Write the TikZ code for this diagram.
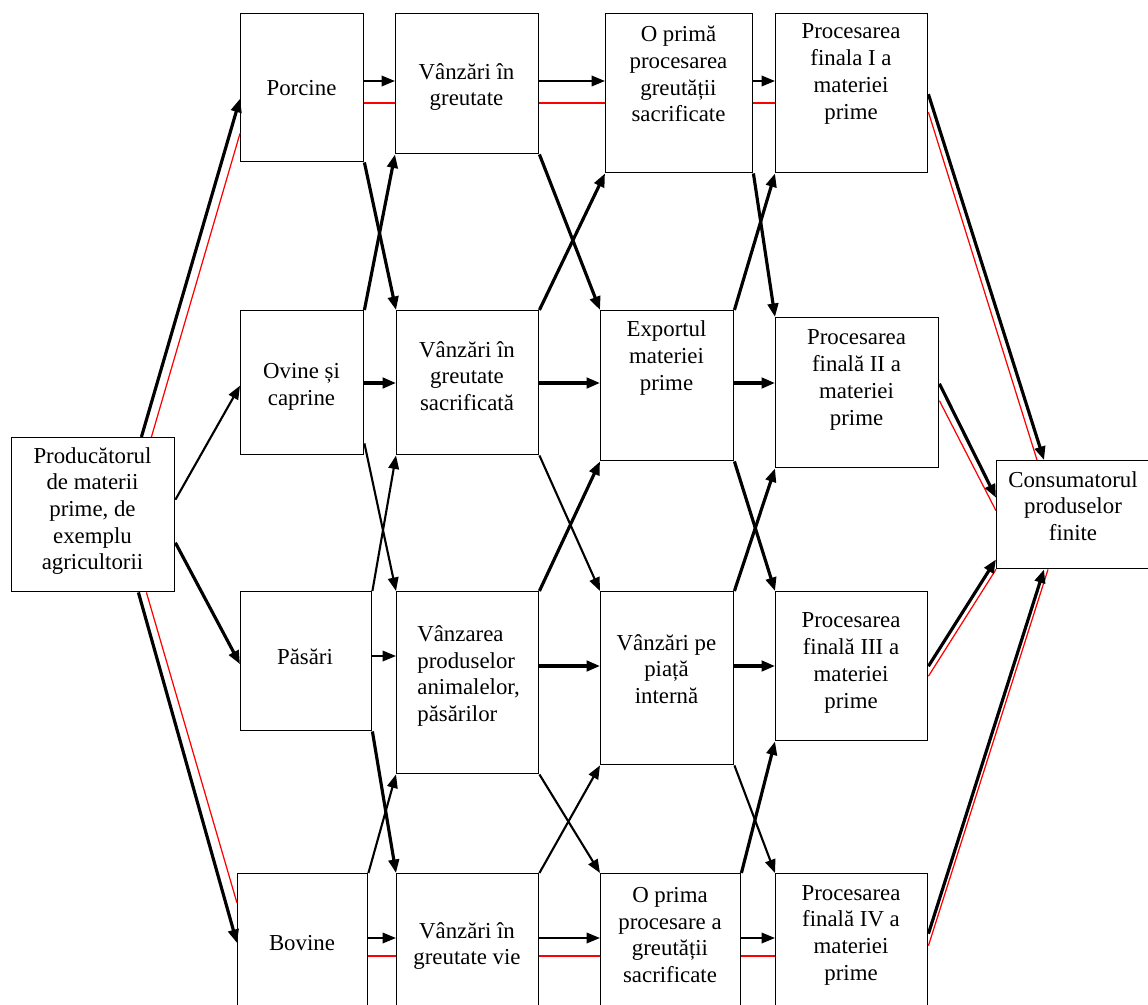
\documentclass[tikz,border=0pt]{standalone}
\usepackage{fontspec}
\setmainfont{Liberation Serif}
\usetikzlibrary{arrows.meta,calc}

\begin{document}
\begin{tikzpicture}[x=0.02cm,y=-0.02cm,
	box/.style 2 args={draw, line width=0.8pt, minimum width=#1*0.02cm, minimum height=#2*0.02cm, inner sep=0pt, anchor=north west},
	txt/.style={align=center, inner sep=0pt, font=\fontsize{13}{15.2}\selectfont},
	thk/.style={line width=1.8pt, -{Triangle[length=0.27cm,width=0.21cm]}},
	med/.style={line width=1.2pt, -{Triangle[length=0.27cm,width=0.21cm]}},
	redl/.style={red, line width=0.7pt}]
	\useasboundingbox (0,0) rectangle (1148,1004);
	\clip (0,0) rectangle (1148,1004);
	% boxes
	\node[box={163}{154}] (prod) at (11,437) {};
	\node[box={123}{148}] (porc) at (240,13) {};
	\node[box={123}{144}] (ovine) at (240,310) {};
	\node[box={131}{139}] (pasari) at (240,591) {};
	\node[box={130}{160}] (bovine) at (237,873) {};
	\node[box={143}{140}] (vgr) at (395,13) {};
	\node[box={142}{144}] (vsac) at (396,310) {};
	\node[box={142}{182}] (vprod) at (396,591) {};
	\node[box={142}{160}] (vvie) at (396,873) {};
	\node[box={147}{159}] (opr1) at (605,13) {};
	\node[box={133}{150}] (exp) at (600,310) {};
	\node[box={133}{173}] (vpia) at (600,591) {};
	\node[box={140}{160}] (opr2) at (600,873) {};
	\node[box={152}{159}] (p1) at (775,13) {};
	\node[box={163}{150}] (p2) at (775,317) {};
	\node[box={152}{149}] (p3) at (775,591) {};
	\node[box={152}{160}] (p4) at (775,873) {};
	\node[box={170}{108}] (cons) at (996,460) {};
	% texts
	\node[txt] (prod-t) at (92.5,511) {Producătorul\\de materii\\prime, de\\exemplu\\agricultorii};
	\node[txt] (porc-t) at (301.5,88) {Porcine};
	\node[txt] (ovine-t) at (301.5,387) {Ovine și\\caprine};
	\node[txt] (pasari-t) at (305,657) {Păsări};
	\node[txt] (bovine-t) at (302,943) {Bovine};
	\node[txt] (vgr-t) at (466.5,87) {Vânzări în\\greutate};
	\node[txt] (vsac-t) at (467,376) {Vânzări în\\greutate\\sacrificată};
	\node[txt, align=left, anchor=west] (vprod-t) at (417,676) {Vânzarea\\produselor\\animalelor,\\păsărilor};
	\node[txt] (vvie-t) at (467,946) {Vânzări în\\greutate vie};
	\node[txt] (opr1-t) at (678.5,74) {O primă\\procesarea\\greutății\\sacrificate};
	\node[txt] (exp-t) at (666.5,358) {Exportul\\materiei\\prime};
	\node[txt] (vpia-t) at (666.5,669) {Vânzări pe\\piață\\internă};
	\node[txt] (opr2-t) at (670,935) {O prima\\procesare a\\greutății\\sacrificate};
	\node[txt] (p1-t) at (851,74) {Procesarea\\finala I a\\materiei\\prime};
	\node[txt] (p2-t) at (856.5,380) {Procesarea\\finală II a\\materiei\\prime};
	\node[txt] (p3-t) at (851,663) {Procesarea\\finală III a\\materiei\\prime};
	\node[txt] (p4-t) at (851,935) {Procesarea\\finală IV a\\materiei\\prime};
	\node[txt] (cons-t) at (1073,506) {Consumatorul\\produselor\\finite};
	% rows
	\coordinate (r1) at (0,81);
	\coordinate (r1r) at (0,103);
	\coordinate (r2) at (0,383);
	\coordinate (r3a) at (0,656);
	\coordinate (r3) at (0,666);
	\coordinate (r4) at (0,938);
	\coordinate (r4r) at (0,956);
	\foreach \a/\b in {porc/vgr,vgr/opr1,opr1/p1}{
		\draw[redl] (\a.east |- r1r) -- (\b.west |- r1r);
		\draw[med] (\a.east |- r1) -- (\b.west |- r1);
	}
	\foreach \a/\b in {ovine/vsac,vsac/exp,exp/p2}
		\draw[thk] (\a.east |- r2) -- (\b.west |- r2);
	\draw[med] (pasari.east |- r3a) -- (vprod.west |- r3a);
	\foreach \a/\b in {vprod/vpia,vpia/p3}
		\draw[thk] (\a.east |- r3) -- (\b.west |- r3);
	\foreach \a/\b in {bovine/vvie,vvie/opr2,opr2/p4}{
		\draw[redl] (\a.east |- r4r) -- (\b.west |- r4r);
		\draw[med] (\a.east |- r4) -- (\b.west |- r4);
	}
	% crossings
	\draw[thk] (porc.south east) -- (vsac.north west);
	\draw[thk] (ovine.north east) -- (vgr.south west);
	\draw[thk] (vgr.south east) -- (exp.north west);
	\draw[thk] (vsac.north east) -- (opr1.south west);
	\draw[thk] (opr1.south east) -- (p2.north west);
	\draw[thk] (exp.north east) -- (p1.south west);
	\draw[med] ($(ovine.south east)+(0,-12)$) -- (vprod.north west);
	\draw[med] (pasari.north east) -- (vsac.south west);
	\draw[med] (vsac.south east) -- (vpia.north west);
	\draw[thk] (vprod.north east) -- (exp.south west);
	\draw[thk] (exp.south east) -- (p3.north west);
	\draw[thk] (vpia.north east) -- (p2.south west);
	\draw[thk] (pasari.south east) -- (vvie.north west);
	\draw[med] (bovine.north east) -- (vprod.south west);
	\draw[med] (vprod.south east) -- (opr2.north west);
	\draw[med] (vvie.north east) -- (vpia.south west);
	\draw[med] (vpia.south east) -- (p4.north west);
	\draw[thk] (opr2.north east) -- (p3.south west);
	% producer
	\draw[redl] ($(prod.north east)+(-24,0)$) -- ($(porc.south west)+(0,-29)$);
	\draw[thk] ($(prod.north east)+(-34,0)$) -- ($(porc.west)+(0,11)$);
	\draw[med] ($(prod.east)+(0,-15)$) -- ($(ovine.west)+(0,3)$);
	\draw[thk] ($(prod.east)+(0,28)$) -- ($(pasari.west)+(0,3)$);
	\draw[redl] ($(prod.south east)+(-29,0)$) -- ($(bovine.north west)+(0,30)$);
	\draw[thk] ($(prod.south east)+(-37,0)$) -- ($(bovine.north west)+(0,70)$);
	% consumer
	\draw[redl] ($(p1.east)+(0,19)$) -- ($(cons.north west)+(41,0)$);
	\draw[thk] ($(p1.east)+(0,1)$) -- ($(cons.north west)+(48,0)$);
	\draw[redl] ($(p2.east)+(0,8)$) -- ($(cons.west)+(0,-4)$);
	\draw[thk] ($(p2.east)+(0,-9)$) -- ($(cons.west)+(0,-17)$);
	\draw[redl] ($(p3.east)+(0,10)$) -- (cons.south west);
	\draw[thk] (p3.east) -- ($(cons.south west)+(0,-10)$);
	\draw[redl] ($(p4.east)+(0,-8)$) -- ($(cons.south west)+(52,0)$);
	\draw[thk] ($(p4.east)+(0,-20)$) -- ($(cons.south west)+(48,0)$);
\end{tikzpicture}
\end{document}
